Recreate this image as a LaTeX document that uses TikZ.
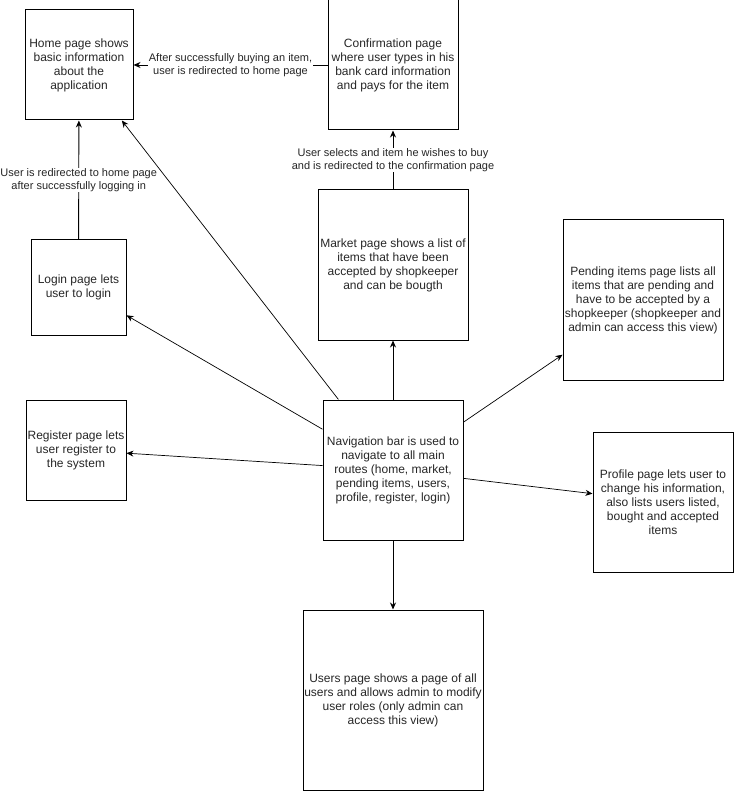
\documentclass[tikz,border=0pt]{standalone}
\usepackage{fontspec}
\setmainfont{Liberation Sans}
\usetikzlibrary{arrows.meta}
\begin{document}
\begin{tikzpicture}[x=1pt,y=-1pt,
  box/.style={draw=black, line width=1pt, inner sep=0pt, align=center,
    text=black!85, font=\fontsize{12}{14}\selectfont},
  conn/.style={-{Stealth[length=7pt,width=6pt]}, line width=0.9pt},
  thinconn/.style={-{Stealth[length=7pt,width=6pt]}, line width=0.7pt},
  lbl/.style={fill=white, inner sep=1pt, align=center, text=black!85,
    font=\fontsize{11}{12.5}\selectfont}]
\useasboundingbox (0,0) rectangle (734,791);

\node[box, minimum width=108, minimum height=110] (home) at (79,65)
  {Home page shows\\basic information\\about the\\application};
\node[box, minimum width=130, minimum height=130] (conf) at (393,65)
  {Confirmation page\\where user types in his\\bank card information\\and pays for the item};
\node[box, minimum width=150, minimum height=150] (market) at (393,265)
  {Market page shows a list of\\items that have been\\accepted by shopkeeper\\and can be bougth};
\node[box, minimum width=95, minimum height=95] (login) at (78.5,287.5)
  {Login page lets\\user to login};
\node[box, minimum width=160, minimum height=160] (pending) at (643,300)
  {Pending items page lists all\\items that are pending and\\have to be accepted by a\\shopkeeper (shopkeeper and\\admin can access this view)};
\node[box, minimum width=100, minimum height=100] (register) at (76,450)
  {Register page lets\\user register to\\the system};
\node[box, minimum width=140, minimum height=140] (nav) at (393,470)
  {Navigation bar is used to\\navigate to all main\\routes (home, market,\\pending items, users,\\profile, register, login)};
\node[box, minimum width=140, minimum height=140] (profile) at (663,502)
  {Profile page lets user to\\change his information,\\also lists users listed,\\bought and accepted\\items};
\node[box, minimum width=180, minimum height=180] (users) at (393,700)
  {Users page shows a page of all\\users and allows admin to modify\\user roles (only admin can\\access this view)};

\draw[conn] (login) -- node[lbl] {User is redirected to home page\\after successfully logging in} (home);
\draw[conn] (conf) -- node[lbl] {After successfully buying an item,\\user is redirected to home page} (home);
\draw[conn] (market) -- node[lbl] {User selects and item he wishes to buy\\and is redirected to the confirmation page} (conf);
\draw[conn] (nav) -- (market);
\draw[conn] (nav) -- (users);
\draw[thinconn] (nav) -- (home);
\draw[thinconn] (nav) -- (login);
\draw[thinconn] (nav) -- (register);
\draw[thinconn] (nav) -- (pending);
\draw[thinconn] (nav) -- (profile);
\end{tikzpicture}
\end{document}
